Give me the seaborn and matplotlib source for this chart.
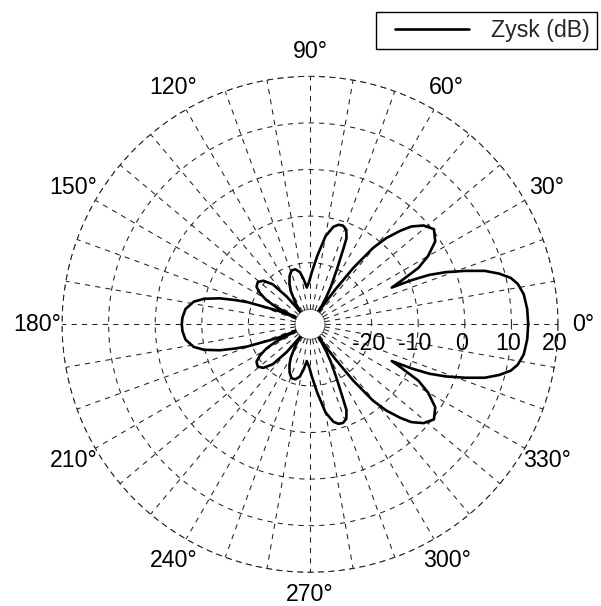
import numpy as np
import pandas as pd
import matplotlib
matplotlib.use("Agg")
import matplotlib.pyplot as plt
from matplotlib import transforms
from matplotlib.legend_handler import HandlerLine2D
import seaborn as sns

# ---- data (angle in degrees, gain in dB) ----
angles_deg = [
    0, 4, 8, 11, 13, 15, 17, 19, 21, 22.5, 23.5, 24.2, 25.5, 27.5, 30, 33.5,
    37.5, 41, 44, 46, 48.5, 50.5, 52.5, 54, 56, 58.5, 61, 64, 66, 67, 69,
    71.5, 74, 76.5, 80, 84, 88, 91, 95, 98, 101, 105, 109, 113, 117, 120,
    124, 128, 130, 133, 137, 141, 145, 148, 151, 153, 155, 157, 158.6,
    160.5, 162, 164, 166.5, 169, 173, 177, 180,
    183, 187, 191, 193.5, 196, 198, 199.5, 201.4, 203, 205, 207, 209, 212,
    215, 219, 223, 227, 230, 232, 236, 240, 243, 247, 251, 255, 259, 262,
    265, 269, 272, 276, 280, 283.5, 286, 288.5, 291, 293, 294, 296, 299,
    301.5, 304, 306, 307.5, 309.5, 311.5, 314, 316, 319, 322.5, 326.5, 330,
    332.5, 334.5, 335.8, 336.5, 337.5, 339, 341, 343, 345, 347, 349, 352,
    356, 360,
]
gain_db = [
    13.6, 13.5, 13.1, 12.2, 11.0, 8.8, 6.0, 2.0, -2.0, -5.5, -9.5, -14.0,
    -11.5, -7.0, -4.0, -1.0, 0.3, -0.9, -3.0, -5.3, -8.5, -12.0, -18.0,
    -24.0, -30.0, -27.0, -24.0, -20.0, -16.0, -13.2, -11.5, -10.9, -11.0,
    -11.7, -14.0, -18.5, -22.0, -24.0, -25.3, -23.5, -21.8, -21.0, -21.0,
    -22.0, -23.5, -25.0, -27.5, -30.0, -25.5, -21.5, -19.5, -18.8, -19.2,
    -20.5, -22.5, -25.0, -30.0, -26.0, -23.6, -19.0, -16.4, -13.0, -9.8,
    -7.8, -6.3, -5.8, -5.7,
    -5.8, -6.3, -7.8, -9.8, -13.0, -16.4, -19.0, -23.6, -26.0, -30.0,
    -25.0, -22.5, -20.5, -19.2, -18.8, -19.5, -21.5, -25.5, -30.0, -27.5,
    -25.0, -23.5, -22.0, -21.0, -21.0, -21.8, -23.5, -25.3, -24.0, -22.0,
    -18.5, -14.0, -11.7, -11.0, -10.9, -11.5, -13.2, -16.0, -20.0, -24.0,
    -27.0, -30.0, -24.0, -18.0, -12.0, -8.5, -5.3, -3.0, -0.9, 0.3, -1.0,
    -4.0, -7.0, -11.5, -14.0, -9.5, -5.5, -2.0, 2.0, 6.0, 8.8, 11.0, 12.2,
    13.1, 13.5, 13.6,
]
angle_ticks = [0, 30, 60, 90, 120, 150, 180, 210, 240, 270, 300, 330]
angle_labels = ["0°", "30°", "60°", "90°", "120°", "150°", "180°",
                "210°", "240°", "270°", "300°", "330°"]
r_ticks = [-20, -10, 0, 10, 20]
r_labels = ["-20", "-10", "0", "10", "20"]
series_name = "Zysk (dB)"

# ---- style ----
sns.set_theme(style="white")
plt.rcParams["font.family"] = ["Liberation Sans", "DejaVu Sans"]
FS = 16.7

fig = plt.figure(figsize=(6.01, 6.06), dpi=100)
ax = fig.add_axes([0.1032, 0.0556, 0.8253, 0.8185], projection="polar")

df = pd.DataFrame({"theta": np.deg2rad(angles_deg), "gain": gain_db})
sns.lineplot(data=df, x="theta", y="gain", sort=False, estimator=None,
             color="black", linewidth=1.9, ax=ax, label=series_name)

ax.set_rorigin(-33.22)
ax.set_ylim(-30, 20)
ax.set_xticks(np.deg2rad(np.arange(0, 360, 10)))
ax.set_xticklabels([])
ax.set_yticks(r_ticks)
ax.set_yticklabels([])
ax.set_xlabel("")
ax.set_ylabel("")
ax.tick_params(length=0)
ax.grid(True, color="#222222", linewidth=0.75, linestyle=(0, (5, 5)))
ax.spines["polar"].set_linestyle((0, (5, 5)))
ax.spines["polar"].set_linewidth(0.75)
ax.spines["polar"].set_color("#222222")
ax.spines["inner"].set_linestyle((0, (1, 1.5)))
ax.spines["inner"].set_linewidth(0.7)
ax.spines["inner"].set_color("#333333")

# angle labels
for a, lab in zip(angle_ticks, angle_labels):
    rad = 24.8 if a == 270 else 25.4
    ax.text(np.deg2rad(a), rad, lab, ha="center", va="center",
            fontsize=FS, color="black", clip_on=False)

# radial labels, set horizontally just under the 0° spoke
off = transforms.offset_copy(ax.transData, fig=fig, x=-3.5, y=-19, units="dots")
for r, lab in zip(r_ticks, r_labels):
    ax.text(0, r, lab, ha="center", va="center", fontsize=FS,
            color="black", transform=off, clip_on=False)

leg = ax.legend(loc="upper right", bbox_to_anchor=(597 / 601, 1 - 12 / 606),
                bbox_transform=fig.transFigure, borderaxespad=0,
                fontsize=FS, handlelength=4.2, handletextpad=0.45,
                borderpad=0.3, fancybox=False, framealpha=1, numpoints=2,
                handler_map={plt.Line2D: HandlerLine2D(marker_pad=0.5)})
leg.get_frame().set_edgecolor("black")
leg.get_frame().set_linewidth(1.0)

fig.savefig("out.png", dpi=100)
